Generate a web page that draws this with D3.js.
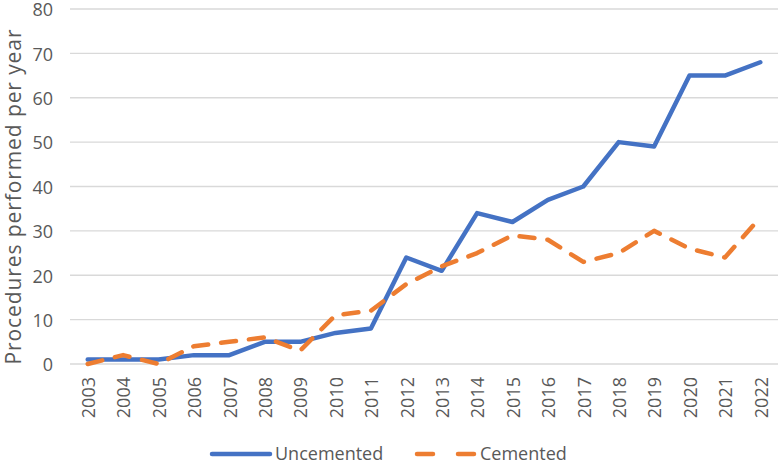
<!DOCTYPE html>
<html><head><meta charset="utf-8">
<script src="https://cdn.jsdelivr.net/npm/d3@7"></script>
<style>body{margin:0;background:#fff}svg{display:block}text{font-family:"Open Sans",sans-serif;fill:#595959}</style>
</head><body>
<svg id="c" width="780" height="464"></svg>
<script>
const years = ["2003","2004","2005","2006","2007","2008","2009","2010","2011","2012","2013","2014","2015","2016","2017","2018","2019","2020","2021","2022"];
const uncemented = [1,1,1,2,2,5,5,7,8,24,21,34,32,37,40,50,49,65,65,68];
const cemented = [0,2,0,4,5,6,3,11,12,18,22,25,29,28,23,25,30,26,24,33];
const yTicks = [0,10,20,30,40,50,60,70,80];
const seriesNames = ["Uncemented","Cemented"];
const colors = ["#4472C4","#ED7D31"];

const svg = d3.select("#c");
const x = d3.scaleBand().domain(years).range([70,778]);
const y = d3.scaleLinear().domain([0,80]).range([364,9]);

// gridlines
svg.append("g").selectAll("line").data(yTicks).join("line")
  .attr("x1",70).attr("x2",778).attr("y1",d=>y(d)).attr("y2",d=>y(d))
  .attr("stroke","#d9d9d9").attr("stroke-width",1.3);

// y tick labels
svg.append("g").selectAll("text").data(yTicks).join("text")
  .attr("x",53).attr("y",d=>y(d)+1).attr("dy","0.35em").attr("text-anchor","end")
  .attr("font-size",18).text(d=>d);

// x tick labels
svg.append("g").selectAll("text").data(years).join("text")
  .attr("transform",d=>`translate(${x(d)+x.bandwidth()/2+1},377) rotate(-90)`)
  .attr("dy","0.35em").attr("text-anchor","end").attr("font-size",18)
  .text(d=>d);

// y title
svg.append("text").attr("transform","translate(14,197) rotate(-90)")
  .attr("dy","0.35em").attr("text-anchor","middle").attr("font-size",21)
  .attr("textLength",335).attr("lengthAdjust","spacing")
  .text("Procedures performed per year");

const line = d3.line().x((d,i)=>x(years[i])+x.bandwidth()/2).y(d=>y(d));
svg.append("path").datum(uncemented).attr("d",line).attr("fill","none")
  .attr("stroke",colors[0]).attr("stroke-width",4.5).attr("stroke-linejoin","round").attr("stroke-linecap","round");
svg.append("path").datum(cemented).attr("d",line).attr("fill","none")
  .attr("stroke",colors[1]).attr("stroke-width",4.5).attr("stroke-linejoin","round").attr("stroke-linecap","round")
  .attr("stroke-dasharray","15,13");

// legend
const lg = svg.append("g");
lg.append("line").attr("x1",212).attr("x2",270).attr("y1",454).attr("y2",454)
  .attr("stroke",colors[0]).attr("stroke-width",4.5).attr("stroke-linecap","round");
lg.append("text").attr("x",275).attr("y",454).attr("dy","0.35em").attr("font-size",18).text(seriesNames[0]);
lg.append("line").attr("x1",417).attr("x2",474).attr("y1",454).attr("y2",454)
  .attr("stroke",colors[1]).attr("stroke-width",4.5).attr("stroke-linecap","round").attr("stroke-dasharray","16,25");
lg.append("text").attr("x",480).attr("y",454).attr("dy","0.35em").attr("font-size",18).text(seriesNames[1]);
</script>
</body></html>
